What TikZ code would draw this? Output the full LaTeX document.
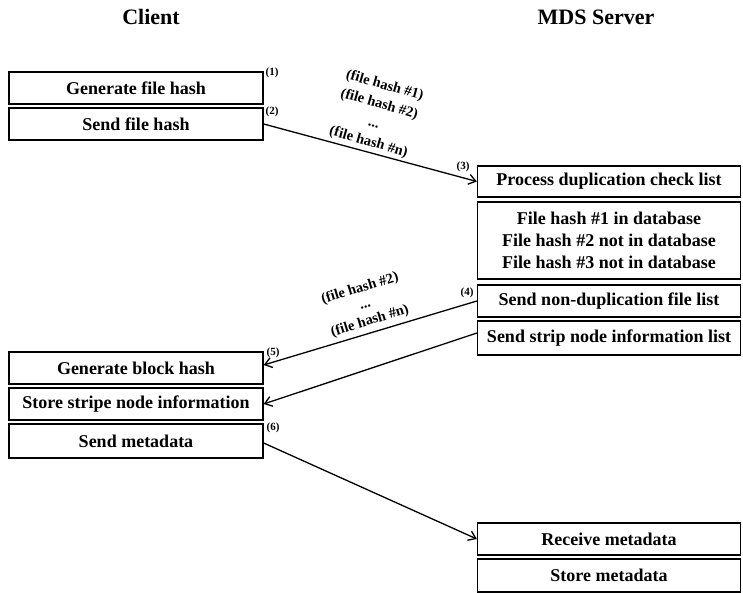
\documentclass[tikz,border=0pt]{standalone}
\usepackage{fontspec}
\setmainfont{Liberation Serif}
\usetikzlibrary{arrows.meta}
\tikzset{
  box/.style={draw=black, line width=1.3pt, inner sep=0pt, font=\fontsize{18}{22}\selectfont\bfseries, align=center},
  cbox/.style={box, minimum width=254pt},
  sbox/.style={box, minimum width=263pt},
  head/.style={font=\fontsize{22}{26}\selectfont\bfseries},
  num/.style={font=\fontsize{11}{13}\selectfont\bfseries, inner sep=0pt},
  lab/.style={font=\fontsize{14.5}{19.5}\selectfont\bfseries, inner sep=0pt, align=center},
  conn/.style={line width=1.3pt, -{Straight Barb[length=7pt,width=10pt,line width=1.3pt]}}
}
\begin{document}
\begin{tikzpicture}[x=1pt,y=-1pt]
\useasboundingbox (0,0) rectangle (743,593);
% headers
\node[head] (hc) at (151,17) {Client};
\node[head] (hs) at (596,17) {MDS Server};
% client boxes
\node[cbox, minimum height=32pt] (gfh) at (136,88) {Generate file hash};
\node[cbox, minimum height=32pt] (sfh) at (136,124) {Send file hash};
\node[cbox, minimum height=32pt] (gbh) at (136,368) {Generate block hash};
\node[cbox, minimum height=32pt] (ssn) at (136,404) {Store stripe node information};
\node[cbox, minimum height=34pt] (smd) at (136,441) {Send metadata};
% server boxes
\node[sbox, minimum height=31pt] (pdc) at (609,181.5) {Process duplication check list};
\node[sbox, minimum height=77pt] (fhl) at (609,240.5) {File hash \#1 in database\\File hash \#2 not in database\\File hash \#3 not in database};
\node[sbox, minimum height=32pt] (snd) at (609,301) {Send non-duplication file list};
\node[sbox, minimum height=34pt] (ssi) at (609,338) {Send strip node information list};
\node[sbox, minimum height=32pt] (rm) at (609,539) {Receive metadata};
\node[sbox, minimum height=33pt] (sm) at (609,575.5) {Store metadata};
% numbers
\node[num] (n1) at (272,73) {(1)};
\node[num] (n2) at (272,112) {(2)};
\node[num] (n3) at (463,167) {(3)};
\node[num] (n4) at (467,293) {(4)};
\node[num] (n5) at (273,353) {(5)};
\node[num] (n6) at (273,428) {(6)};
% connectors
\draw[conn] (sfh.east) -- (pdc.west);
\draw[conn] (snd.west) -- ([yshift=3pt]gbh.east);
\draw[conn] ([yshift=5pt]ssi.west) -- (ssn.east);
\draw[conn] ([yshift=-2pt]smd.east) -- (rm.west);
% message labels
\node[lab, rotate=-16] (l1) at (376.5,114) {(file hash \#1)\\(file hash \#2)\\...\\(file hash \#n)};
\node[lab, rotate=17, font=\fontsize{14.5}{17}\selectfont\bfseries] (m1) at (365,305) {(file hash \#2)\\...\\(file hash \#n)};
\end{tikzpicture}
\end{document}
